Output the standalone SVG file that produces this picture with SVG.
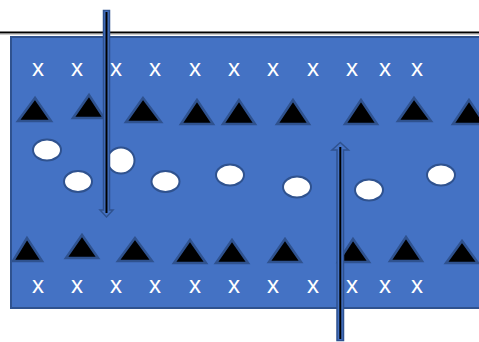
<svg xmlns="http://www.w3.org/2000/svg" width="479" height="342" viewBox="0 0 479 342">
<style>
.x{font-family:"Liberation Sans",Arial,sans-serif;font-size:24px;fill:#fff;text-anchor:middle}
.tri{fill:#000;stroke:#2f528f;stroke-width:2.5;stroke-linejoin:miter}
.ell{fill:#fff;stroke:#2f528f;stroke-width:2}
.sh{fill:#4472c4;stroke:#2f528f;stroke-width:1.5}
</style>
<rect width="479" height="342" fill="#fff"/>
<line x1="0" y1="32.5" x2="479" y2="32.5" stroke="#000" stroke-width="2"/>
<line x1="0" y1="34" x2="479" y2="34" stroke="#999" stroke-width="1"/>
<g id="membrane">
<rect x="11" y="37" width="475" height="271" fill="#4472c4" stroke="#2f528f" stroke-width="2"/>
</g>
<g id="top-x">
<text class="x" x="38" y="76">x</text><text class="x" x="77" y="76">x</text><text class="x" x="116" y="76">x</text><text class="x" x="155" y="76">x</text><text class="x" x="195" y="76">x</text><text class="x" x="234" y="76">x</text><text class="x" x="273" y="76">x</text><text class="x" x="313" y="76">x</text><text class="x" x="352" y="76">x</text><text class="x" x="385" y="76">x</text><text class="x" x="417" y="76">x</text>
</g>
<g id="bottom-x">
<text class="x" x="38" y="293">x</text><text class="x" x="77" y="293">x</text><text class="x" x="116" y="293">x</text><text class="x" x="155" y="293">x</text><text class="x" x="195" y="293">x</text><text class="x" x="234" y="293">x</text><text class="x" x="273" y="293">x</text><text class="x" x="313" y="293">x</text><text class="x" x="352" y="293">x</text><text class="x" x="385" y="293">x</text><text class="x" x="417" y="293">x</text>
</g>
<g id="top-triangles">
<polygon class="tri" points="35,98 18,121 51,121"/>
<polygon class="tri" points="89,95 73,118 104,118"/>
<polygon class="tri" points="143,98 126,122 161,122"/>
<polygon class="tri" points="197,100 181,124 213,124"/>
<polygon class="tri" points="239,100 223,124 255,124"/>
<polygon class="tri" points="293,100 277,124 309,124"/>
<polygon class="tri" points="361,100 345,124 377,124"/>
<polygon class="tri" points="414,98 398,121 431,121"/>
<polygon class="tri" points="469,100 453,124 485,124"/>
</g>
<g id="bottom-triangles">
<polygon class="tri" points="27,238 13,261 42,261"/>
<polygon class="tri" points="82,235 66,258 98,258"/>
<polygon class="tri" points="135,238 118,261 152,261"/>
<polygon class="tri" points="190,240 174,263 206,263"/>
<polygon class="tri" points="232,240 216,263 248,263"/>
<polygon class="tri" points="285,239 269,262 301,262"/>
<polygon class="tri" points="353,239 338,262 369,262"/>
<polygon class="tri" points="406,237 390,261 422,261"/>
<polygon class="tri" points="462,241 446,263 478,263"/>
</g>
<g id="particles">
<ellipse class="ell" cx="47" cy="150" rx="14" ry="10.5"/>
<ellipse class="ell" cx="78" cy="181.5" rx="14" ry="10.5"/>
<ellipse class="ell" cx="121" cy="160.5" rx="13.5" ry="13"/>
<ellipse class="ell" cx="165.5" cy="181.5" rx="14" ry="10.5"/>
<ellipse class="ell" cx="230" cy="175" rx="14" ry="10.5"/>
<ellipse class="ell" cx="297" cy="187" rx="14" ry="10.5"/>
<ellipse class="ell" cx="369" cy="190" rx="14" ry="10.5"/>
<ellipse class="ell" cx="441" cy="175" rx="14" ry="10.5"/>
</g>
<g id="connectors">
<g id="arrow-down">
<path class="sh" d="M103.5,10.5 H109.5 V210 H113 L106.5,217 L100,210 H103.5 Z"/>
<line x1="106.5" y1="12" x2="106.5" y2="213" stroke="#000" stroke-width="2"/>
</g>
<g id="arrow-up">
<path class="sh" d="M337,340.5 H343.5 V150 H348.5 L340.3,142.5 L332,150 H337 Z"/>
<line x1="340.3" y1="147" x2="340.3" y2="339" stroke="#000" stroke-width="2"/>
</g>
</g>
</svg>
